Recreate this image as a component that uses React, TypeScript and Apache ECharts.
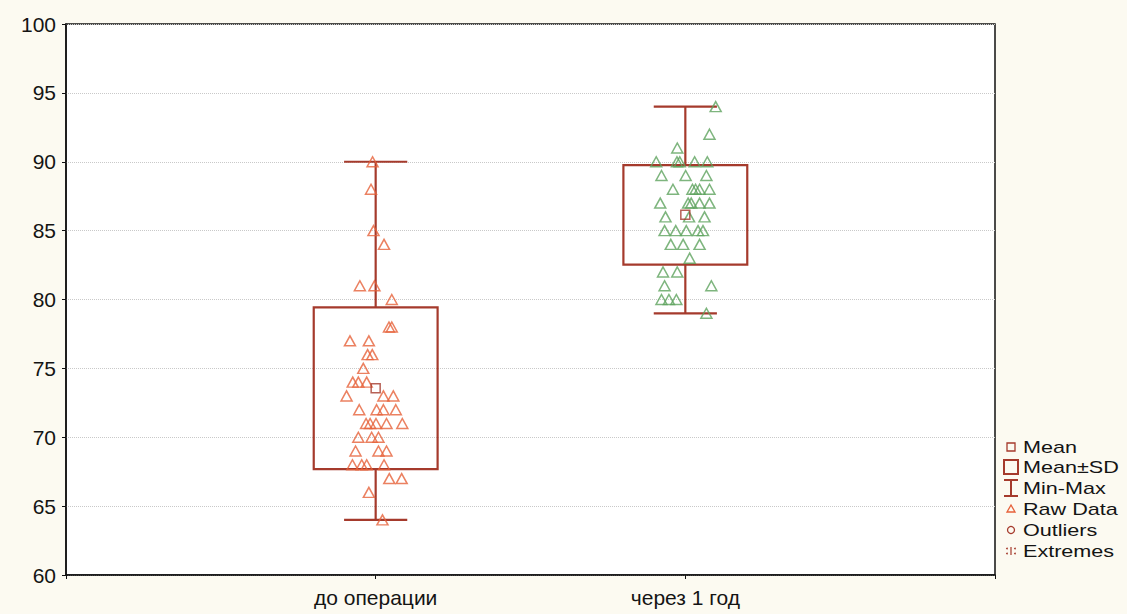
import React, { useEffect, useRef } from "react";
import * as echarts from "echarts";

// Group labels on the x axis
const CATEGORIES = ["до операции", "через 1 год"];

// Raw scores, group 1 ("до операции") and its horizontal jitter (in category units)
const BEFORE_VALUES = [
  90, 88, 85, 84, 81, 81, 80, 78, 78, 77, 77, 76, 76, 75, 74, 74, 74, 73, 73, 73, 72, 72,
  72, 72, 71, 71, 71, 71, 71, 70, 70, 70, 69, 69, 69, 68, 68, 68, 68, 67, 67, 66, 64,
];
const BEFORE_JITTER = [
  -0.01, -0.015, -0.007, 0.027, -0.051, -0.004, 0.052, 0.043, 0.052, -0.083, -0.022, -0.026,
  -0.011, -0.04, -0.074, -0.056, -0.029, -0.094, 0.025, 0.057, -0.053, 0.003, 0.025, 0.065,
  -0.031, -0.018, 0.001, 0.035, 0.086, -0.056, -0.013, 0.009, -0.065, 0.009, 0.035, -0.075,
  -0.045, -0.029, 0.027, 0.044, 0.084, -0.022, 0.022,
];

// Raw scores, group 2 ("через 1 год") and its jitter
const AFTER_VALUES = [
  94, 92, 91, 90, 90, 90, 90, 90, 89, 89, 89, 88, 88, 88, 88, 88, 87, 87, 87, 87, 87, 86, 86,
  86, 85, 85, 85, 85, 85, 84, 84, 84, 83, 82, 82, 81, 81, 80, 80, 80, 79,
];
const AFTER_JITTER = [
  0.098, 0.078, -0.026, -0.094, -0.027, -0.018, 0.03, 0.071, -0.077, 0.001, 0.068, -0.04,
  0.023, 0.033, 0.046, 0.078, -0.081, 0.009, 0.019, 0.046, 0.078, -0.064, 0.012, 0.062,
  -0.067, -0.031, 0.003, 0.041, 0.057, -0.047, -0.007, 0.046, 0.014, -0.072, -0.026, -0.067,
  0.084, -0.077, -0.053, -0.029, 0.068,
];

// Y axis range and step
const Y_MIN = 60;
const Y_MAX = 100;
const Y_STEP = 5;

// Legend entries
const LEGEND_LABELS = ["Mean", "Mean±SD", "Min-Max", "Raw Data", "Outliers", "Extremes"];

const BOX_COLOR = "#a53a2c";
const BEFORE_COLOR = "#e6613a";
const AFTER_COLOR = "#5ea35e";
const TEXT_COLOR = "#141414";
const FONT = "'Liberation Sans', Arial, sans-serif";
const FONT_SIZE = 21;

function stats(values: number[]) {
  const n = values.length;
  const mean = values.reduce((a, b) => a + b, 0) / n;
  const sd = Math.sqrt(values.reduce((a, b) => a + (b - mean) * (b - mean), 0) / (n - 1));
  return { mean, sd, min: Math.min(...values), max: Math.max(...values) };
}

export default function App() {
  const ref = useRef<HTMLDivElement>(null);

  useEffect(() => {
    if (!ref.current) return;
    const chart = echarts.init(ref.current, null, { renderer: "svg" });

    const groups = [
      { x: 1, values: BEFORE_VALUES, jitter: BEFORE_JITTER, color: BEFORE_COLOR },
      { x: 2, values: AFTER_VALUES, jitter: AFTER_JITTER, color: AFTER_COLOR },
    ];
    const summary = groups.map((g) => {
      const s = stats(g.values);
      return [g.x, s.mean, s.sd, s.min, s.max];
    });

    const rawSeries = groups.map((g) => ({
      type: "scatter",
      data: g.values.map((v, i) => [g.x + g.jitter[i], v]),
      symbol: "triangle",
      symbolSize: [11, 10],
      itemStyle: { color: "rgba(0,0,0,0)", borderColor: g.color, borderWidth: 1.5 },
      z: 4,
      silent: true,
    }));

    const legendX = 1011;
    const legendTextX = 1023;
    const rowY = [447, 467, 488, 509, 530, 551];
    const legendIcons: any[] = [
      { type: "rect", shape: { x: legendX - 4, y: rowY[0] - 4, width: 8, height: 8 }, style: { fill: "none", stroke: BOX_COLOR, lineWidth: 1.3 } },
      { type: "rect", shape: { x: legendX - 7, y: rowY[1] - 7, width: 14, height: 14 }, style: { fill: "none", stroke: BOX_COLOR, lineWidth: 2 } },
      { type: "line", shape: { x1: legendX, y1: rowY[2] - 8, x2: legendX, y2: rowY[2] + 8 }, style: { stroke: BOX_COLOR, lineWidth: 2 } },
      { type: "line", shape: { x1: legendX - 7, y1: rowY[2] - 8, x2: legendX + 7, y2: rowY[2] - 8 }, style: { stroke: BOX_COLOR, lineWidth: 2 } },
      { type: "line", shape: { x1: legendX - 7, y1: rowY[2] + 8, x2: legendX + 7, y2: rowY[2] + 8 }, style: { stroke: BOX_COLOR, lineWidth: 2 } },
      { type: "polygon", shape: { points: [[legendX, rowY[3] - 4], [legendX - 4, rowY[3] + 3], [legendX + 4, rowY[3] + 3]] }, style: { fill: "none", stroke: BEFORE_COLOR, lineWidth: 1.3 } },
      { type: "circle", shape: { cx: legendX, cy: rowY[4], r: 3.5 }, style: { fill: "none", stroke: BOX_COLOR, lineWidth: 1.3 } },
      { type: "line", shape: { x1: legendX, y1: rowY[5] - 4, x2: legendX, y2: rowY[5] + 4 }, style: { stroke: BOX_COLOR, lineWidth: 1.2 } },
      ...[-1, 1].flatMap((sx) =>
        [-1, 1].map((sy) => ({
          type: "circle",
          shape: { cx: legendX + sx * 4, cy: rowY[5] + sy * 2.5, r: 0.9 },
          style: { fill: BOX_COLOR },
        }))
      ),
    ];
    // Legend labels: slightly condensed height, stretched width to fit the tight rows
    const legendTexts = LEGEND_LABELS.map((label, i) => ({
      type: "text",
      x: legendTextX,
      y: rowY[i],
      scaleX: 1.27,
      style: { text: label, fill: TEXT_COLOR, font: `17px ${FONT}`, verticalAlign: "middle", align: "left" },
    }));

    chart.setOption({
      animation: false,
      backgroundColor: "#fcfaf1",
      grid: {
        left: 66,
        right: 132,
        top: 24,
        bottom: 39,
        show: true,
        backgroundColor: "#ffffff",
        borderColor: "#111111",
        borderWidth: 1.5,
      },
      xAxis: {
        type: "value",
        min: 0,
        max: 3,
        interval: 1,
        splitLine: { show: false },
        axisLine: { lineStyle: { color: "#111111", width: 1.5 } },
        axisTick: { length: 4, lineStyle: { color: "#111111" } },
        axisLabel: {
          margin: 12,
          color: TEXT_COLOR,
          fontSize: FONT_SIZE,
          fontFamily: FONT,
          formatter: (v: number) => (v >= 1 && v <= CATEGORIES.length ? CATEGORIES[v - 1] : ""),
        },
      },
      yAxis: {
        type: "value",
        min: Y_MIN,
        max: Y_MAX,
        interval: Y_STEP,
        axisLine: { show: true, lineStyle: { color: "#111111", width: 1.5 } },
        axisTick: { show: true, length: 4, lineStyle: { color: "#111111" } },
        axisLabel: { margin: 10, color: TEXT_COLOR, fontSize: FONT_SIZE, fontFamily: FONT },
        splitLine: { show: true, lineStyle: { color: "#c9c9c9", width: 1, type: "dotted" } },
      },
      series: [
        {
          type: "custom",
          data: summary,
          z: 3,
          silent: true,
          renderItem: (_params: any, api: any) => {
            const x = api.value(0);
            const mean = api.value(1);
            const sd = api.value(2);
            const lo = api.value(3);
            const hi = api.value(4);
            const [cx, yTop] = api.coord([x, mean + sd]);
            const yBot = api.coord([x, mean - sd])[1];
            const yHi = api.coord([x, hi])[1];
            const yLo = api.coord([x, lo])[1];
            const bl = api.coord([x - 0.2, mean])[0];
            const br = api.coord([x + 0.2, mean])[0];
            const cl = api.coord([x - 0.102, mean])[0];
            const cr = api.coord([x + 0.102, mean])[0];
            const style = { stroke: BOX_COLOR, lineWidth: 2.2, fill: "none" };
            return {
              type: "group",
              children: [
                { type: "rect", shape: { x: bl, y: yTop, width: br - bl, height: yBot - yTop }, style },
                { type: "line", shape: { x1: cx, y1: yHi, x2: cx, y2: yTop }, style },
                { type: "line", shape: { x1: cx, y1: yBot, x2: cx, y2: yLo }, style },
                { type: "line", shape: { x1: cl, y1: yHi, x2: cr, y2: yHi }, style },
                { type: "line", shape: { x1: cl, y1: yLo, x2: cr, y2: yLo }, style },
              ],
            };
          },
        },
        {
          type: "scatter",
          data: summary.map((s) => [s[0], s[1]]),
          symbol: "rect",
          symbolSize: 9,
          itemStyle: { color: "rgba(0,0,0,0)", borderColor: BOX_COLOR, borderWidth: 1.5 },
          z: 5,
          silent: true,
        },
        ...rawSeries,
      ],
      graphic: [...legendIcons, ...legendTexts],
    });

    return () => chart.dispose();
  }, []);

  return (
    <div
      ref={ref}
      style={{ position: "fixed", left: 0, top: 0, width: 1127, height: 614 }}
    />
  );
}
